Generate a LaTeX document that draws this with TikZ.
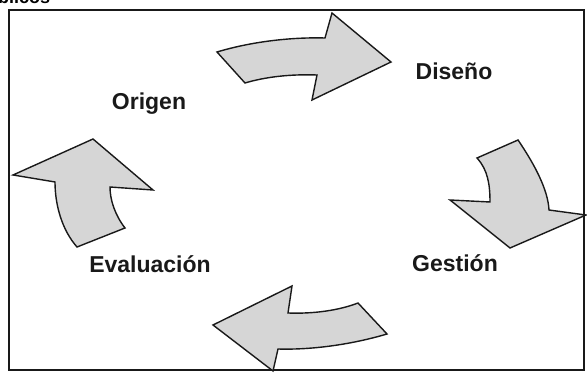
\documentclass[tikz,border=0pt]{standalone}
\usepackage{fontspec}
\setmainfont{Liberation Sans}
\begin{document}
\begin{tikzpicture}[x=1pt,y=-1pt,
  cyclearrow/.style={draw=black!90, line width=1.4pt, fill=black!16, line join=miter},
  label/.style={font=\fontsize{23}{27}\selectfont\bfseries, text=black!90, anchor=base, inner sep=0pt},
  frame/.style={draw=black!90, line width=1.4pt}]
\useasboundingbox (0,0) rectangle (587,374);
% partial title cut off at the top
\node[font=\fontsize{18}{20}\selectfont\bfseries, anchor=base west, inner sep=0pt] (title) at (-2,4) {blicos};
% frame
\draw[frame] (9,10) rectangle (584,370);
% top arrow (to Diseño)
\draw[cyclearrow] (217,52) .. controls (250,42) and (290,37) .. (325,38) -- (332,13) -- (391,62) -- (312,100) -- (317,75) .. controls (290,74) and (265,77) .. (245,83) -- cycle;
% right arrow (to Gestión)
\draw[cyclearrow] (477,158) -- (518,140) .. controls (535,165) and (548,190) .. (549,210) -- (586,215) -- (510,248) -- (450,200) -- (490,202) .. controls (490,185) and (488,170) .. (477,158) -- cycle;
% bottom arrow (to Evaluación)
\draw[cyclearrow] (358,303) -- (387,334) .. controls (350,345) and (310,350) .. (278,349) -- (273,371) -- (213,325) -- (292,286) -- (288,313) .. controls (315,314) and (340,310) .. (358,303) -- cycle;
% left arrow (to Origen)
\draw[cyclearrow] (77,247) -- (125,228) .. controls (115,215) and (110,200) .. (110,187) -- (153,190) -- (93,139) -- (13,175) -- (55,182) .. controls (55,205) and (62,230) .. (77,247) -- cycle;
% labels
\node[label] (origen) at (149,110) {Origen};
\node[label] (diseno) at (454,80) {Diseño};
\node[label] (gestion) at (455,272) {Gestión};
\node[label] (evaluacion) at (150,273) {Evaluación};
\end{tikzpicture}
\end{document}
